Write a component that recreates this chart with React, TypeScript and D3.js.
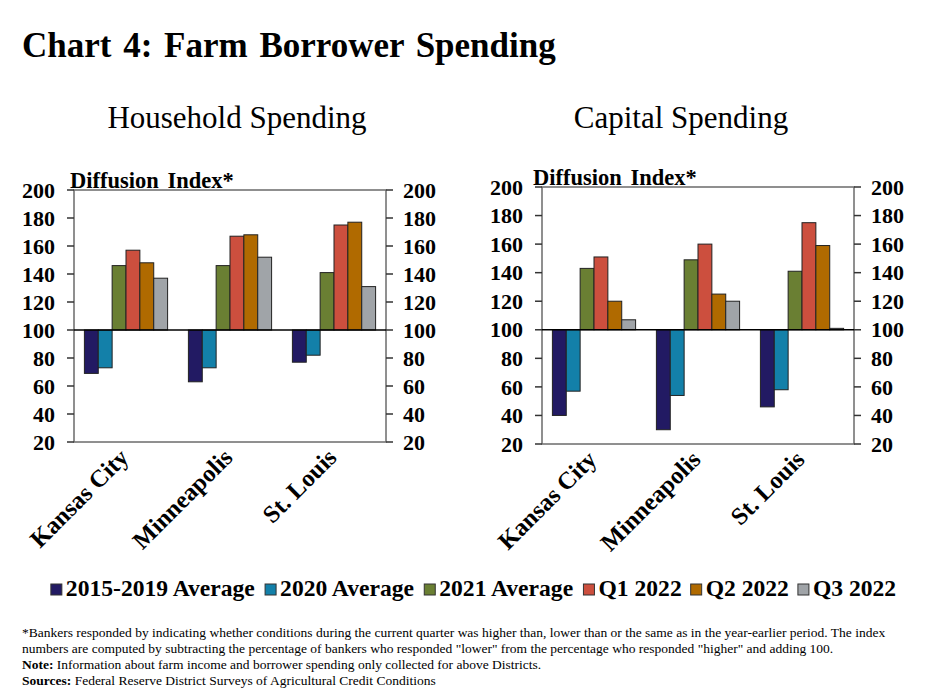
import * as d3 from "d3";
import React from "react";

// categories and series
const districts = ["Kansas City", "Minneapolis", "St. Louis"];
const seriesNames = ["2015-2019 Average", "2020 Average", "2021 Average", "Q1 2022", "Q2 2022", "Q3 2022"];
const seriesColors = ["#221a63", "#1380a9", "#6a7f33", "#cc4f3e", "#b06a00", "#a0a4a8"];

// Household spending, one array per series (KC, Minneapolis, St. Louis)
const household2015to2019 = [69, 63, 77];
const household2020 = [73, 73, 82];
const household2021 = [146, 146, 141];
const householdQ1 = [157, 167, 175];
const householdQ2 = [148, 168, 177];
const householdQ3 = [137, 152, 131];

// Capital spending
const capital2015to2019 = [40, 30, 46];
const capital2020 = [57, 54, 58];
const capital2021 = [143, 149, 141];
const capitalQ1 = [151, 160, 175];
const capitalQ2 = [120, 125, 159];
const capitalQ3 = [107, 120, 101];

const yTicks = [20, 40, 60, 80, 100, 120, 140, 160, 180, 200];

const householdSeries = [household2015to2019, household2020, household2021, householdQ1, householdQ2, householdQ3];
const capitalSeries = [capital2015to2019, capital2020, capital2021, capitalQ1, capitalQ2, capitalQ3];

const FONT = "'Liberation Serif', 'Times New Roman', serif";

interface PanelProps {
  left: number;
  top: number;
  bottom: number;
  title: string;
  titleX: number;
  labelX: number;
  labelY: number;
  series: number[][];
}

const Panel: React.FC<PanelProps> = ({ left, top, bottom, title, titleX, labelX, labelY, series }) => {
  const width = 312;
  const x0 = d3.scaleBand<string>().domain(districts).range([left, left + width]).paddingInner(0.2).paddingOuter(0.1);
  const x1 = d3.scaleBand<string>().domain(seriesNames).range([0, x0.bandwidth()]);
  const y = d3.scaleLinear().domain([20, 200]).range([bottom, top]);
  const base = y(100);

  return (
    <g>
      <text x={titleX} y={128} textAnchor="middle" fontSize={31} fontFamily={FONT}>{title}</text>
      <text x={labelX} y={labelY} fontSize={22.5} fontWeight="bold" fontFamily={FONT} wordSpacing={3}>Diffusion Index*</text>
      <rect x={left} y={top} width={width} height={bottom - top} fill="none" stroke="#6b6b6b" strokeWidth={1.5} />
      {yTicks.map((t) => (
        <g key={t}>
          <line x1={left - 7} x2={left} y1={y(t)} y2={y(t)} stroke="#333" strokeWidth={1.5} />
          <line x1={left + width} x2={left + width + 7} y1={y(t)} y2={y(t)} stroke="#333" strokeWidth={1.5} />
          <text x={left - 19} y={y(t)} dy="0.35em" textAnchor="end" fontSize={22} fontWeight="bold" fontFamily={FONT}>{t}</text>
          <text x={left + width + 17} y={y(t)} dy="0.35em" textAnchor="start" fontSize={22} fontWeight="bold" fontFamily={FONT}>{t}</text>
        </g>
      ))}
      {districts.map((d, i) => (
        <g key={d}>
          {seriesNames.map((s, j) => {
            const v = series[j][i];
            const yv = y(v);
            return (
              <rect
                key={s}
                x={x0(d)! + x1(s)!}
                y={Math.min(yv, base)}
                width={x1.bandwidth()}
                height={Math.abs(base - yv)}
                fill={seriesColors[j]}
                stroke="#222"
                strokeWidth={1}
              />
            );
          })}
        </g>
      ))}
      <line x1={left} x2={left + width} y1={base} y2={base} stroke="#000" strokeWidth={1.5} />
      {districts.map((d) => (
        <text
          key={d}
          transform={`translate(${x0(d)! + x0.bandwidth() / 2 + 4},${bottom + 17}) rotate(-45)`}
          textAnchor="end"
          fontSize={24.5}
          fontWeight="bold"
          fontFamily={FONT}
        >
          {d}
        </text>
      ))}
    </g>
  );
};

function measure(text: string, font: string): number {
  const ctx = document.createElement("canvas").getContext("2d");
  if (!ctx) return text.length * 10;
  ctx.font = font;
  return ctx.measureText(text).width;
}

const Legend: React.FC = () => {
  const size = 23.6;
  const font = `bold ${size}px ${FONT}`;
  const sq = 11;
  const gapAfterSq = 4;
  const gapAfterText = 9;
  const widths = seriesNames.map((s) => measure(s, font));
  const total = d3.sum(widths) + seriesNames.length * (sq + gapAfterSq) + (seriesNames.length - 1) * gapAfterText;
  let cx = 473.5 - total / 2;
  const items = seriesNames.map((s, i) => {
    const item = { s, x: cx, color: seriesColors[i] };
    cx += sq + gapAfterSq + widths[i] + gapAfterText;
    return item;
  });
  return (
    <g>
      {items.map((it) => (
        <g key={it.s}>
          <rect x={it.x} y={584} width={sq} height={sq} fill={it.color} stroke="#333" strokeWidth={1} />
          <text x={it.x + sq + gapAfterSq} y={596} fontSize={size} fontWeight="bold" fontFamily={FONT}>{it.s}</text>
        </g>
      ))}
    </g>
  );
};

export default function App() {
  return (
    <svg width={925} height={693} style={{ position: "absolute", left: 0, top: 0, background: "#fff" }}>
      <rect width={925} height={693} fill="#fff" />
      <text x={22} y={57} fontSize={35} fontWeight="bold" fontFamily={FONT} wordSpacing={3}>
        Chart 4: Farm Borrower Spending
      </text>
      <Panel left={74} top={190} bottom={442} title="Household Spending" titleX={237} labelX={70} labelY={188} series={householdSeries} />
      <Panel left={542} top={187} bottom={444} title="Capital Spending" titleX={681} labelX={533} labelY={185} series={capitalSeries} />
      <Legend />
      <g fontFamily={FONT} fontSize={13.5}>
        <text x={22} y={637}>
          *Bankers responded by indicating whether conditions during the current quarter was higher than, lower than or the same as in the year-earlier period. The index
        </text>
        <text x={22} y={653}>
          numbers are computed by subtracting the percentage of bankers who responded "lower" from the percentage who responded "higher" and adding 100.
        </text>
        <text x={22} y={669}>
          <tspan fontWeight="bold">Note:</tspan> Information about farm income and borrower spending only collected for above Districts.
        </text>
        <text x={22} y={685}>
          <tspan fontWeight="bold">Sources:</tspan> Federal Reserve District Surveys of Agricultural Credit Conditions
        </text>
      </g>
    </svg>
  );
}
